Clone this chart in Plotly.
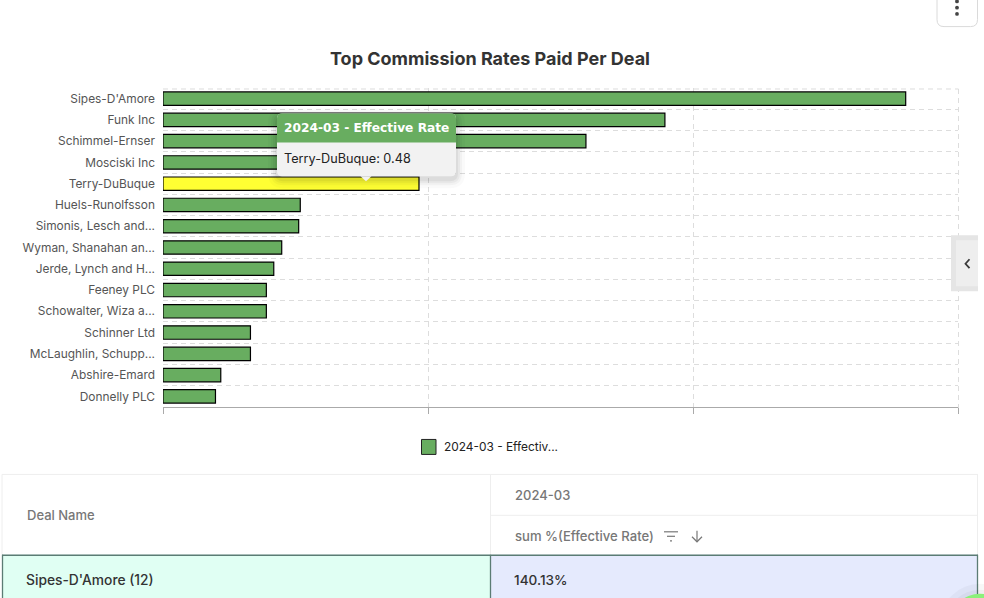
import plotly.graph_objects as go

deals = ["Sipes-D'Amore", "Funk Inc", "Schimmel-Ernser", "Mosciski Inc", "Terry-DuBuque",
         "Huels-Runolfsson", "Simonis, Lesch and...", "Wyman, Shanahan an...", "Jerde, Lynch and H...",
         "Feeney PLC", "Schowalter, Wiza a...", "Schinner Ltd", "McLaughlin, Schupp...",
         "Abshire-Emard", "Donnelly PLC"]
rates = [1.4013, 0.947, 0.798, 0.52, 0.483, 0.259, 0.256, 0.224, 0.209, 0.195, 0.195, 0.165, 0.165, 0.109, 0.099]
bar_colors = ["#68AD60"] * 4 + ["#FFFF33"] + ["#68AD60"] * 10
x_ticks = [0, 0.5, 1.0, 1.5]
title_text = "Top Commission Rates Paid Per Deal"
legend_name = "2024-03 - Effectiv..."
tooltip_title = "2024-03 - Effective Rate"
tooltip_body = "Terry-DuBuque:\u00a00.48"
table_head = ["Deal Name", "2024-03", "sum %(Effective Rate)"]
table_row = ["Sipes-D'Amore (12)", "140.13%"]

W, H = 984, 598
L, R, T, B = 163, 26, 87.5, 191


def px(x):
    return (x - L) / (W - L - R)


def py(y):
    return 1 - (y - T) / (H - T - B)


def rrect(x0, y0, x1, y1, r, top=True, bottom=True):
    rt, rb = (r if top else 0), (r if bottom else 0)
    pts = [f"M{px(x0 + rt)},{py(y0)}", f"L{px(x1 - rt)},{py(y0)}", f"Q{px(x1)},{py(y0)} {px(x1)},{py(y0 + rt)}",
           f"L{px(x1)},{py(y1 - rb)}", f"Q{px(x1)},{py(y1)} {px(x1 - rb)},{py(y1)}", f"L{px(x0 + rb)},{py(y1)}",
           f"Q{px(x0)},{py(y1)} {px(x0)},{py(y1 - rb)}", f"L{px(x0)},{py(y0 + rt)}",
           f"Q{px(x0)},{py(y0)} {px(x0 + rt)},{py(y0)}", "Z"]
    return "".join(pts)


def poly(points, close=False):
    s = "M" + "L".join(f"{px(a)},{py(b)}" for a, b in points)
    return s + ("Z" if close else "")


shapes = []


def add_path(path, fill="rgba(0,0,0,0)", line=None, lw=0, dash=None, layer="above"):
    ln = dict(color=line or "rgba(0,0,0,0)", width=lw)
    if dash:
        ln["dash"] = dash
    shapes.append(dict(type="path", xref="paper", yref="paper", path=path, fillcolor=fill, line=ln, layer=layer))


def add_rect(x0, y0, x1, y1, fill):
    add_path(poly([(x0, y0), (x1, y0), (x1, y1), (x0, y1)], True), fill=fill)


def add_line(x0, y0, x1, y1, color, lw=1):
    add_path(poly([(x0, y0), (x1, y1)]), line=color, lw=lw)


def add_circle(cx, cy, r, fill, opacity=1):
    shapes.append(dict(type="circle", xref="paper", yref="paper", x0=px(cx - r), x1=px(cx + r),
                       y0=py(cy + r), y1=py(cy - r), fillcolor=fill, opacity=opacity,
                       line=dict(width=0), layer="above"))


# plot frame drawn dashed: the top and right edges are not given by the axis grid
add_path(poly([(163, 88.5), (958.5, 88.5)]), line="#DDDDDD", lw=1, dash="5px,4px", layer="below")
add_path(poly([(958.5, 88.5), (958.5, 408)]), line="#DDDDDD", lw=1, dash="5px,4px", layer="below")

# kebab button
add_path(rrect(937, -12, 977.5, 26, 7), fill="white", line="#DADADA", lw=1)
for yy in (0.8, 7, 13.3):
    add_circle(957, yy, 1.9, "#444444")

# side collapse tab
add_rect(951, 235, 978, 291, "#E5E5E5")
add_rect(956, 240, 978, 286, "#EEEEEE")
add_path(poly([(969.5, 259), (965.5, 263.5), (969.5, 268)]), line="#3A3A3A", lw=1.8)

# tooltip shadow and body
for g, a in ((9, 0.02), (6, 0.03), (4, 0.04), (2, 0.05)):
    add_path(rrect(277 - g, 113 - g + 4, 456 + g, 176 + g + 3, 6 + g), fill=f"rgba(0,0,0,{a})")
add_path(rrect(277, 113, 456, 176, 5), fill="#F2F2F2")
add_path(poly([(360.5, 176), (366, 181), (371.5, 176)], True), fill="#F2F2F2")
add_path(rrect(277, 113, 456, 142, 5, bottom=False), fill="#68AD60")

# table
add_rect(2, 555, 490, 600, "#E0FFF3")
add_rect(490, 555, 978, 600, "#E5EAFD")
GRID = "#EEEEEE"
add_line(2, 474.5, 978, 474.5, GRID)
add_line(2, 474.5, 2, 555, GRID)
add_line(490.5, 474.5, 490.5, 555, GRID)
add_line(977.5, 474.5, 977.5, 555, GRID)
add_line(490.5, 515.5, 978, 515.5, GRID)
DARK = "#5B7C74"
add_line(2, 555.5, 978, 555.5, DARK, 1.3)
add_line(2.5, 555, 2.5, 600, DARK, 1.3)
add_line(490.5, 555, 490.5, 600, DARK, 1.3)
add_line(977.5, 555, 977.5, 600, DARK, 1.3)

# sort and filter icons
add_line(664, 532, 678, 532, "#777777", 1.2)
add_line(667, 536.5, 675, 536.5, "#777777", 1.2)
add_line(670, 541, 672, 541, "#777777", 1.2)
add_line(697, 531, 697, 542, "#777777", 1.2)
add_path(poly([(692, 537), (697, 542), (702, 537)]), line="#777777", lw=1.2)

# floating help button at the corner
add_circle(980, 624, 40, "#000000", 0.03)
add_circle(980, 624, 34, "#000000", 0.03)
add_circle(980, 624, 30, "#8BF07A")

# legend key
add_path(poly([(421.5, 439.5), (436, 439.5), (436, 454.5), (421.5, 454.5)], True), fill="#68AD60", line="#222222", lw=1)


def note(x, y, text, size=13, color="#7A7A7A", anchor="left", family="Inter", weight=400):
    return dict(xref="paper", yref="paper", x=px(x), y=py(y), text=text, showarrow=False,
                xanchor=anchor, yanchor="middle", borderpad=0,
                font=dict(family=family, size=size, color=color, weight=weight))


annotations = [
    note(282.5, 127.5, tooltip_title, 12.2, "white", family="DejaVu Sans", weight=700),
    note(282.5, 158, tooltip_body, 12.7, "#222222"),
    note(25.5, 515, table_head[0], 13, "#777777", weight=500),
    note(514, 495, table_head[1], 13, "#777777", weight=500),
    note(514, 536, table_head[2], 13.1, "#777777", weight=500),
    note(24.5, 580, table_row[0], 13.8, "#333333", weight=500),
    note(513, 580, table_row[1], 13.6, "#333333", weight=500),
    note(443, 446.5, legend_name, 11.9, "#222222"),
]

fig = go.Figure(go.Bar(
    y=deals, x=rates, orientation="h", name=legend_name,
    marker=dict(color=bar_colors, line=dict(color="#000000", width=1.2)),
    hovertemplate="%{y}: %{x}<extra>2024-03 - Effective Rate</extra>", showlegend=False,
))

fig.update_layout(
    width=W, height=H, margin=dict(l=L, r=R, t=T, b=B, pad=0),
    paper_bgcolor="white", plot_bgcolor="white", bargap=0.37,
    font=dict(family="Inter", color="#555555", size=12),
    title=dict(text=title_text, x=490 / W, xanchor="center", y=1 - 59 / H, yanchor="middle",
               font=dict(family="Inter", size=18, color="#333333", weight=700)),
    xaxis=dict(range=[0, 1.5], tickvals=x_ticks, showticklabels=False, ticks="outside", ticklen=6,
               tickcolor="#AAAAAA", showline=True, linecolor="#AAAAAA", linewidth=1, zeroline=False,
               showgrid=True, gridcolor="#DDDDDD", griddash="5px,4px", gridwidth=1),
    yaxis=dict(type="category", categoryorder="array", categoryarray=deals, range=[14.5, -0.5],
               tickson="boundaries", ticks="", ticklabelstandoff=7, showline=False, zeroline=False,
               showgrid=True, gridcolor="#DDDDDD", griddash="5px,4px", gridwidth=1,
               tickfont=dict(family="Inter", size=11.9, color="#555555")),
    shapes=shapes, annotations=annotations, hovermode="closest",
)

fig.write_html("out.html", config=dict(displayModeBar=False),
               post_script="document.body.style.margin='0';document.body.style.overflow='hidden';")
